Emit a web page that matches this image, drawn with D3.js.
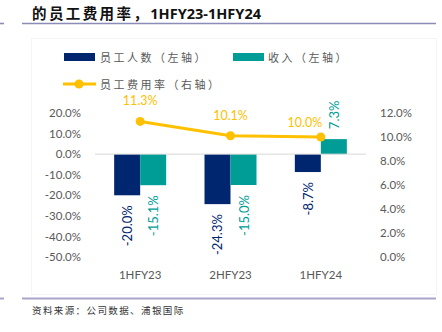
<!DOCTYPE html>
<html>
<head>
<meta charset="utf-8">
<script src="https://cdn.jsdelivr.net/npm/d3@7"></script>
<style>
  html, body { margin: 0; padding: 0; background: #fff; }
  svg { display: block; }
</style>
</head>
<body>
<svg id="chart" width="442" height="332"></svg>
<script>
// Half-year periods
const categories = ["1HFY23", "2HFY23", "1HFY24"];
// YoY change of headcount (left axis, %)
const headcountChange = [-20.0, -24.3, -8.7];
// YoY change of revenue (left axis, %)
const revenueChange = [-15.1, -15.0, 7.3];
// Staff cost ratio (right axis, %)
const staffCostRatio = [11.3, 10.1, 10.0];
// Axis ticks
const leftTicks = [20, 10, 0, -10, -20, -30, -40, -50];
const rightTicks = [12, 10, 8, 6, 4, 2, 0];

const NAVY = "#002670";
const TEAL = "#009D96";
const GOLD = "#FFC000";
const AXIS_TEXT = "#595959";
const LATIN = "Lato, 'Open Sans', sans-serif";
const CJK = "'Noto Sans CJK SC', sans-serif";

const svg = d3.select("#chart");

// Title and rules
svg.append("line").attr("x1", 0).attr("x2", 4).attr("y1", 23.5).attr("y2", 23.5)
  .attr("stroke", "#8C8CB8").attr("stroke-width", 1.6);
svg.append("line").attr("x1", 22).attr("x2", 436).attr("y1", 23.5).attr("y2", 23.5)
  .attr("stroke", "#8C8CB8").attr("stroke-width", 1.6);
svg.append("line").attr("x1", 0).attr("x2", 4).attr("y1", 298.5).attr("y2", 298.5)
  .attr("stroke", "#A9A4C8").attr("stroke-width", 2);
svg.append("line").attr("x1", 22).attr("x2", 436).attr("y1", 298.5).attr("y2", 298.5)
  .attr("stroke", "#A9A4C8").attr("stroke-width", 2);

const title = svg.append("text").attr("x", 32).attr("y", 18.5)
  .attr("font-weight", "bold").attr("fill", "#111");
title.append("tspan").attr("font-family", CJK).attr("font-size", 14.5)
  .attr("letter-spacing", 2.4).text("的员工费用率，");
title.append("tspan").attr("font-family", "'Noto Sans', sans-serif").attr("font-size", 14.5)
  .text("1HFY23-1HFY24");

svg.append("text").attr("x", 32).attr("y", 313.5)
  .attr("font-family", CJK).attr("font-size", 9.5).attr("letter-spacing", 1.4)
  .attr("fill", "#333").text("资料来源：公司数据、浦银国际");

// Chart area frame
svg.append("rect").attr("x", 31.5).attr("y", 38.5).attr("width", 405).attr("height", 256)
  .attr("fill", "none").attr("stroke", "#F5F5F5");

// Scales
const x = d3.scaleBand().domain(categories).range([95, 366]).padding(0);
const series = ["headcount", "revenue"];
const xSub = d3.scaleBand().domain(series).range([0, x.bandwidth()]).paddingInner(0).paddingOuter(0.737);
const yL = d3.scaleLinear().domain([-50, 20]).range([257, 113]);
const yR = d3.scaleLinear().domain([0, 12]).range([257, 113]);

// Left axis
const leftAxis = svg.append("g").attr("transform", "translate(81,0)")
  .call(d3.axisLeft(yL).tickValues(leftTicks).tickSize(0).tickPadding(0)
    .tickFormat(d => d.toFixed(1) + "%"));
leftAxis.select(".domain").remove();
leftAxis.selectAll("text").attr("font-family", LATIN).attr("font-size", 11.5).attr("fill", AXIS_TEXT);

// Right axis
const rightAxis = svg.append("g").attr("transform", "translate(380,0)")
  .call(d3.axisRight(yR).tickValues(rightTicks).tickSize(0).tickPadding(0)
    .tickFormat(d => d.toFixed(1) + "%"));
rightAxis.select(".domain").remove();
rightAxis.selectAll("text").attr("font-family", LATIN).attr("font-size", 11.5).attr("fill", AXIS_TEXT);

// Category axis
const bottomAxis = svg.append("g").attr("transform", "translate(0,275)")
  .call(d3.axisBottom(x).tickSize(0).tickPadding(0));
bottomAxis.select(".domain").remove();
bottomAxis.selectAll("text").attr("font-family", LATIN).attr("font-size", 11.5).attr("fill", AXIS_TEXT)
  .attr("dy", "0.32em").attr("y", 0);

// Bars
const rows = categories.map((c, i) => ({
  cat: c,
  vals: [
    { key: "headcount", v: headcountChange[i], color: NAVY },
    { key: "revenue", v: revenueChange[i], color: TEAL }
  ]
}));

const groups = svg.append("g").selectAll("g").data(rows).join("g")
  .attr("transform", d => `translate(${x(d.cat)},0)`);

groups.selectAll("rect").data(d => d.vals).join("rect")
  .attr("x", d => xSub(d.key))
  .attr("width", xSub.bandwidth())
  .attr("y", d => yL(Math.max(0, d.v)))
  .attr("height", d => Math.abs(yL(d.v) - yL(0)))
  .attr("fill", d => d.color);

// Zero line
svg.append("line").attr("x1", 95).attr("x2", 366).attr("y1", yL(0)).attr("y2", yL(0))
  .attr("stroke", "#D9D9D9").attr("stroke-width", 1);

// Bar value labels, rotated
groups.selectAll("text.bar-label").data(d => d.vals).join("text")
  .attr("class", "bar-label")
  .attr("transform", d => {
    const cx = xSub(d.key) + xSub.bandwidth() / 2;
    const cy = d.v < 0 ? yL(d.v) + 10 : yL(d.v) - 10;
    return `translate(${cx},${cy}) rotate(-90)`;
  })
  .attr("text-anchor", d => d.v < 0 ? "end" : "start")
  .attr("dominant-baseline", "central")
  .attr("font-family", LATIN).attr("font-size", 13)
  .attr("fill", d => d.color)
  .text(d => d.v.toFixed(1) + "%");

// Staff cost ratio line
const pts = categories.map((c, i) => ({ cat: c, v: staffCostRatio[i] }));
const cxOf = d => x(d.cat) + x.bandwidth() / 2;
svg.append("path").datum(pts)
  .attr("d", d3.line().x(cxOf).y(d => yR(d.v)))
  .attr("fill", "none").attr("stroke", GOLD).attr("stroke-width", 3);
svg.append("g").selectAll("circle").data(pts).join("circle")
  .attr("cx", cxOf).attr("cy", d => yR(d.v)).attr("r", 4.5).attr("fill", GOLD);

// Line value labels (last one nudged left of the revenue label)
const lineLabelShift = [[0, 0], [0, 0], [-16, 6]];
svg.append("g").selectAll("text").data(pts).join("text")
  .attr("x", (d, i) => cxOf(d) + lineLabelShift[i][0])
  .attr("y", (d, i) => yR(d.v) - 16 + lineLabelShift[i][1])
  .attr("text-anchor", "middle")
  .attr("font-family", LATIN).attr("font-size", 12.5)
  .attr("fill", GOLD)
  .text(d => d.v.toFixed(1) + "%");

// Legend
const legend = svg.append("g");
legend.append("rect").attr("x", 64).attr("y", 53).attr("width", 31).attr("height", 8).attr("fill", NAVY);
legend.append("text").attr("x", 100).attr("y", 57).attr("dominant-baseline", "central")
  .attr("font-family", CJK).attr("font-size", 11).attr("letter-spacing", 2.5)
  .attr("fill", AXIS_TEXT).text("员工人数（左轴）");
legend.append("rect").attr("x", 233).attr("y", 53).attr("width", 31).attr("height", 8).attr("fill", TEAL);
legend.append("text").attr("x", 268).attr("y", 57).attr("dominant-baseline", "central")
  .attr("font-family", CJK).attr("font-size", 11).attr("letter-spacing", 2.5)
  .attr("fill", AXIS_TEXT).text("收入（左轴）");
legend.append("line").attr("x1", 63).attr("x2", 96).attr("y1", 84).attr("y2", 84)
  .attr("stroke", GOLD).attr("stroke-width", 3);
legend.append("circle").attr("cx", 79).attr("cy", 84).attr("r", 4.5).attr("fill", GOLD);
legend.append("text").attr("x", 100).attr("y", 84).attr("dominant-baseline", "central")
  .attr("font-family", CJK).attr("font-size", 11).attr("letter-spacing", 2.5)
  .attr("fill", AXIS_TEXT).text("员工费用率（右轴）");
</script>
</body>
</html>
